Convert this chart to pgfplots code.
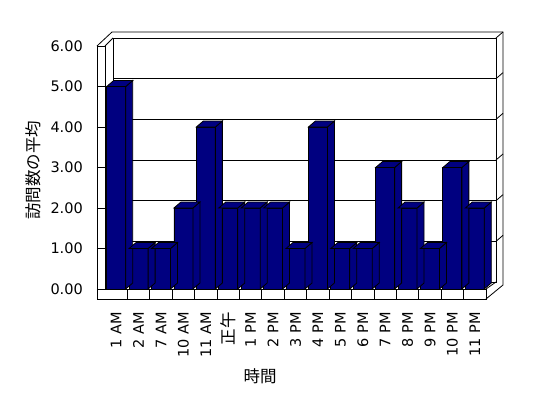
\documentclass[border=0pt]{standalone}
\usepackage{pgfplots}
\pgfplotsset{compat=1.18}
\usepackage{pgfplotstable}
\usepackage{fontspec}
\setmainfont{DejaVu Sans}
\newfontfamily\cjk{Noto Sans CJK JP}
\definecolor{navy}{RGB}{0,0,128}
\pgfplotstableread{
idx val
0 5
1 1
2 1
3 2
4 4
5 2
6 2
7 2
8 1
9 4
10 1
11 1
12 3
13 2
14 1
15 3
16 2
}\data
\pgfdeclareplotmark{bar3d}{%
  \pgfpathmoveto{\pgfqpoint{9.5bp}{0bp}}%
  \pgfpathlineto{\pgfqpoint{16.5bp}{6bp}}%
  \pgfpathlineto{\pgfpoint{16.5bp}{6bp-\h*1bp}}%
  \pgfpathlineto{\pgfpoint{9.5bp}{-\h*1bp}}%
  \pgfpathclose
  \pgfusepathqfillstroke
  \pgfpathmoveto{\pgfqpoint{-9.5bp}{0bp}}%
  \pgfpathlineto{\pgfqpoint{9.5bp}{0bp}}%
  \pgfpathlineto{\pgfqpoint{16.5bp}{6bp}}%
  \pgfpathlineto{\pgfqpoint{-2.5bp}{6bp}}%
  \pgfpathclose
  \pgfusepathqfillstroke
}
\begin{document}
\begin{tikzpicture}
\path[use as bounding box] (-105bp,-109bp) rectangle (443bp,289bp);
% back wall
\begin{axis}[
  at={(8bp,7bp)}, anchor=south west,
  scale only axis, width=383bp, height=244bp,
  xmin=0, xmax=1, ymin=0, ymax=6,
  xtick=\empty, ytick={0,...,6}, yticklabels={},
  ymajorgrids, grid style={black, line width=0.8bp},
  major tick length=0pt,
  axis line style={black, line width=0.8bp},
]
\end{axis}
% front: bars, labels
\begin{axis}[
  at={(0,0)}, anchor=south west,
  scale only axis, width=381bp, height=243bp,
  xmin=-0.5, xmax=16.5, ymin=0, ymax=6,
  axis lines*=left,
  x axis line style={draw=none}, y axis line style={draw=none},
  xtick={0,...,16},
  xticklabels={1 AM,2 AM,7 AM,10 AM,11 AM,{\cjk\fontsize{16.5bp}{18bp}\selectfont 正午},1 PM,2 PM,3 PM,4 PM,5 PM,6 PM,7 PM,8 PM,9 PM,10 PM,11 PM},
  xtick style={draw=none},
  ytick={0,...,6},
  ytick style={black, line width=0.8bp},
  tick align=outside, major tick length=8bp,
  ticklabel style={font=\fontsize{14.5bp}{17bp}\selectfont},
  xticklabel style={rotate=90, anchor=east, inner sep=0pt},
  yticklabel style={anchor=east, inner sep=0pt},
  xticklabel shift=15bp,
  yticklabel shift=14bp,
  /pgf/number format/fixed,
  /pgf/number format/fixed zerofill,
  /pgf/number format/precision=2,
  /pgf/number format/assume math mode=true,
  clip=false,
  xlabel={時間},
  ylabel={訪問数の平均},
  every axis x label/.style={at={([yshift=-87.5bp]axis description cs:0.407,0)}, anchor=center, font=\cjk\fontsize{16.5bp}{18bp}\selectfont},
  every axis y label/.style={at={([xshift=-72bp,yshift=-2.5bp]axis description cs:0,0.5)}, rotate=90, anchor=center, font=\cjk\fontsize{16.5bp}{18bp}\selectfont},
]
\addplot[scatter, only marks, mark=bar3d,
  scatter/use mapped color={draw=black, fill=navy},
  mark options={line width=0.8bp},
  visualization depends on={\thisrow{val}*40.5 \as \h}]
  table[x=idx, y=val] {\data};
\addplot[ybar, bar width=19bp, bar shift=0pt, fill=navy, draw=black, line width=0.8bp]
  table[x=idx, y=val] {\data};
\end{axis}
% walls and floor
\begin{scope}[x=1bp, y=1bp, line width=0.8bp]
  \draw (-8,243) -- (-8,-10) -- (381,-10) -- (381,0) -- (0,0) -- (0,243);
  \foreach \k in {1,...,16} { \draw ({\k*381/17},0) -- ({\k*381/17},-10); }
  \draw (-8,243) -- (7,257) -- (398,257) -- (398,4) -- (381,-10);
  \draw (0,243) -- (8,251);
  \draw (391,251) -- (398,257);
  \draw (381,0) -- (391,7);
  \foreach \k in {1,...,5} { \draw (391,{7+244*\k/6}) -- (398,{13+244*\k/6}); }
\end{scope}
\end{tikzpicture}
\end{document}
